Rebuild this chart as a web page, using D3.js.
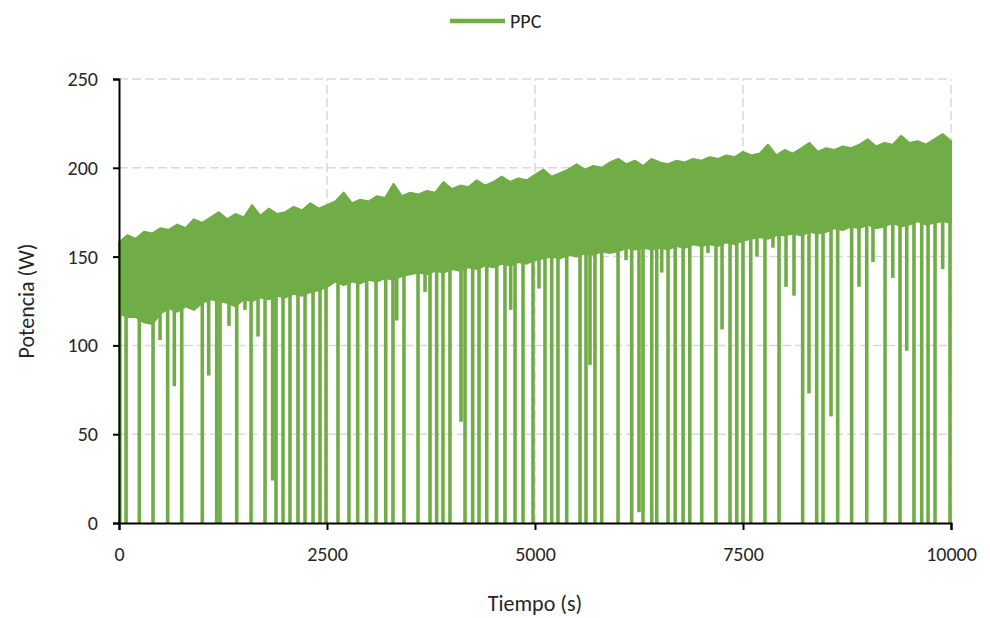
<!DOCTYPE html>
<html>
<head>
<meta charset="utf-8">
<script src="https://d3js.org/d3.v7.min.js"></script>
<style>
  body { margin: 0; background: #fff; }
  svg text { font-family: Calibri, Carlito, Lato, sans-serif; fill: #262626; }
</style>
</head>
<body>
<div id="chartContainer"></div>
<script>
"use strict";

// band of the signal, read every 100 s (t = 0 .. 10000)
var stepSeconds = 100;
var upperW = [158,162,160,164,163,166,165,168,166,171,169,172,175,171,174,172,179,173,177,174,
              175,178,176,180,177,179,181,186,180,182,181,184,183,191,184,186,185,187,186,192,
              188,190,189,193,190,192,195,192,194,193,196,199,195,197,199,202,199,201,200,203,
              205,202,204,201,205,203,202,204,203,205,204,206,205,207,206,209,207,208,213,207,
              210,208,211,214,209,211,210,212,211,213,216,212,214,213,218,214,215,213,216,219,215];
var lowerW = [118,116,116,113,112,118,121,119,122,120,124,126,125,124,122,126,125,127,126,128,
              127,129,128,130,131,133,136,134,136,135,137,136,138,137,139,140,141,140,142,141,
              143,142,144,143,145,144,146,145,147,146,148,149,150,149,151,150,152,151,153,152,
              153,155,154,155,154,155,154,156,155,157,156,157,156,158,157,159,160,161,160,162,
              162,163,162,164,163,164,166,165,167,166,168,166,167,169,167,168,170,168,169,170,169];

// drops of the signal: time (s) and lowest value (W)
var dipTimes = [10,85,244,409,493,585,665,754,1001,1078,1174,1214,1322,1415,1514,1587,1671,1755,1847,1887,
                1971,2055,2151,2236,2332,2416,2488,2632,2764,2869,2977,3089,3206,3293,3338,3425,3594,3678,3738,3818,
                3894,3978,4111,4159,4251,4327,4420,4540,4639,4708,4760,4856,4976,5048,5120,5201,5276,5381,5541,5613,
                5661,5721,5802,5998,6094,6162,6250,6298,6403,6463,6523,6599,6685,6780,6860,7004,7079,7175,7248,7344,
                7425,7500,7593,7668,7764,7860,7933,8017,8113,8217,8293,8386,8462,8558,8638,8806,8894,8987,9062,9207,
                9300,9387,9468,9555,9648,9724,9808,9900,9988];
var dipValues = [0,0,0,0,103,0,77,0,0,83,0,0,111,0,120,0,105,0,24,0,
                 0,0,0,0,0,0,0,0,0,0,0,0,0,0,114,0,0,130,0,0,
                 0,0,57,0,0,0,0,0,0,120,0,0,0,132,0,0,0,0,0,0,
                 89,0,0,0,148,0,6,0,0,0,141,0,0,0,0,0,152,0,109,0,
                 0,0,0,150,0,155,0,133,128,0,73,0,0,60,0,0,133,0,147,0,
                 138,0,97,0,0,0,0,143,0];

var xTicks = [0, 2500, 5000, 7500, 10000];
var yTicks = [0, 50, 100, 150, 200, 250];
var seriesName = "PPC";

var width = 990, height = 618;
var margin = {top: 79, right: 39, bottom: 95, left: 119};
var green = "#70ad47";

var svg = d3.select("#chartContainer").append("svg")
    .attr("width", width).attr("height", height);

var x = d3.scaleLinear().domain([0, 10000]).range([margin.left, width - margin.right]);
var y = d3.scaleLinear().domain([0, 250]).range([height - margin.bottom, margin.top]);

// gridlines
svg.append("g").selectAll("line").data(yTicks.filter(function (d) { return d > 0; }))
    .enter().append("line")
    .attr("x1", x(0)).attr("x2", x(10000))
    .attr("y1", function (d) { return y(d); }).attr("y2", function (d) { return y(d); })
    .attr("stroke", "#d9d9d9").attr("stroke-width", 1.5).attr("stroke-dasharray", "9,4");
svg.append("g").selectAll("line").data(xTicks.filter(function (d) { return d > 0; }))
    .enter().append("line")
    .attr("y1", y(0)).attr("y2", y(250))
    .attr("x1", function (d) { return x(d); }).attr("x2", function (d) { return x(d); })
    .attr("stroke", "#d9d9d9").attr("stroke-width", 1.5).attr("stroke-dasharray", "9,4");

// the band
var band = upperW.map(function (u, i) { return {t: i * stepSeconds, hi: u, lo: lowerW[i]}; });
svg.append("path").datum(band)
    .attr("fill", green)
    .attr("stroke", green).attr("stroke-width", 2).attr("stroke-linejoin", "round")
    .attr("d", d3.area()
        .x(function (d) { return x(d.t); })
        .y0(function (d) { return y(d.lo); })
        .y1(function (d) { return y(d.hi); }));

// drops, starting inside the band
function lowerAt(t) {
    var i = Math.min(Math.floor(t / stepSeconds), lowerW.length - 2);
    var f = t / stepSeconds - i;
    return lowerW[i] + (lowerW[i + 1] - lowerW[i]) * f;
}
svg.append("g").selectAll("line").data(dipTimes)
    .enter().append("line")
    .attr("x1", function (d) { return x(d); }).attr("x2", function (d) { return x(d); })
    .attr("y1", function (d) { return y(lowerAt(d) + 4); })
    .attr("y2", function (d, i) { return y(dipValues[i]); })
    .attr("stroke", green).attr("stroke-width", 3.6);

// axes
var xAxis = svg.append("g")
    .attr("transform", "translate(0," + y(0) + ")")
    .call(d3.axisBottom(x).tickValues(xTicks).tickSize(7).tickPadding(17).tickFormat(d3.format("d")));
var yAxis = svg.append("g")
    .attr("transform", "translate(" + x(0) + ",0)")
    .call(d3.axisLeft(y).tickValues(yTicks).tickSize(6).tickPadding(15));
[xAxis, yAxis].forEach(function (a) {
    a.select(".domain").attr("stroke", "#000").attr("stroke-width", 2);
    a.selectAll(".tick line").attr("stroke", "#000").attr("stroke-width", 2);
    a.selectAll(".tick text").style("font-size", "20px").attr("fill", "#262626");
});

// axis titles
svg.append("text")
    .attr("x", (x(0) + x(10000)) / 2).attr("y", 611)
    .attr("text-anchor", "middle").style("font-size", "22px")
    .text("Tiempo (s)");
svg.append("text")
    .attr("transform", "translate(34," + ((y(0) + y(250)) / 2) + ") rotate(-90)")
    .attr("text-anchor", "middle").style("font-size", "22px")
    .text("Potencia (W)");

// legend
svg.append("line")
    .attr("x1", 450).attr("x2", 505).attr("y1", 21).attr("y2", 21)
    .attr("stroke", green).attr("stroke-width", 4.5);
svg.append("text")
    .attr("x", 510).attr("y", 28)
    .style("font-size", "20px")
    .text(seriesName);
</script>
</body>
</html>
